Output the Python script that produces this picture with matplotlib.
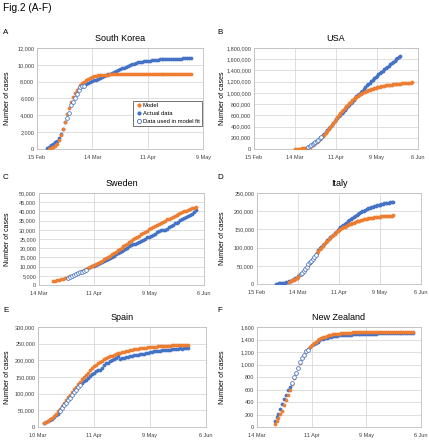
import numpy as np
import pandas as pd
import matplotlib
matplotlib.use("Agg")
import matplotlib.pyplot as plt
from matplotlib.ticker import FuncFormatter
from matplotlib.lines import Line2D

plt.rcParams["font.family"] = ["Liberation Sans", "DejaVu Sans"]

ORANGE = "#ED7D31"
BLUE = "#4472C4"

# ---- A: South Korea (cases)
kr_actual_start = "2020-02-20"
kr_actual = [104, 204, 433, 602, 833, 977, 1261, 1766, 2337, 3150,
             3736, 4335, 5186, 5621, 6088, 6593, 7041, 7313, 7478, 7513,
             7755, 7869, 7979, 8086, 8162, 8236, 8320, 8413, 8565, 8652,
             8799, 8897, 8961, 9037, 9137, 9241, 9332, 9478, 9583, 9661, 9786,
             9887, 9976, 10062, 10156, 10237, 10284, 10331, 10384, 10423, 10450,
             10480, 10512, 10537, 10564, 10591, 10613, 10635, 10653, 10661, 10674,
             10683, 10694, 10702, 10708, 10718, 10728, 10738, 10752, 10761, 10765,
             10774, 10780, 10793]
kr_fit = (10, 20)
kr_model_start = "2020-02-21"
kr_model = [30, 80, 180, 350, 620, 1050, 1650, 2400, 3250,
            4100, 4900, 5600, 6200, 6650, 7000, 7300, 7560, 7800, 8000,
            8180, 8330, 8460, 8560, 8640, 8700, 8745, 8780, 8805, 8825,
            8840, 8850, 8858, 8864, 8868, 8871, 8874, 8876, 8877, 8878, 8879,
            8879, 8879] + [8880] * 31

# ---- B: USA (thousands of cases)
us_actual_start = "2020-03-23"
us_actual = [43.8, 53.7, 65.8, 83.8, 101.7, 121.5, 140.9, 161.8, 188.2,
             213.4, 243.6, 275.4, 308.9, 337.1, 366.7, 396.2, 429.1, 461.4, 496.5,
             526.4, 555.3, 580.6, 607.7, 636.4, 667.8, 699.7, 732.2, 758.8, 784.3,
             811.9, 840.4, 869.2, 905.4, 938.2, 965.8, 988.5, 1012.6, 1039.9, 1069.4,
             1103.5, 1133.1, 1158.0, 1180.4, 1204.4, 1229.3, 1257.0, 1283.9, 1309.5, 1329.3,
             1347.9, 1369.6, 1390.7, 1417.8, 1443.0, 1467.8, 1486.8, 1508.3, 1528.6, 1551.9,
             1577.1, 1601.4, 1622.6, 1643.2, 1662.3]
us_fit = (0, 10)
us_model_start = "2020-03-14"
us_model = [2, 3, 4, 6, 8, 11, 15, 20, 26, 34, 44, 56, 70, 86, 104, 124, 146, 170,
            196, 224, 254, 286, 319, 353, 388, 424, 460, 496,
            532, 568, 603, 637, 670, 702, 733, 762, 790, 817,
            842, 866, 889, 910, 930, 949, 966, 982, 997, 1011,
            1024, 1036, 1047, 1057, 1067, 1076, 1084, 1092, 1099, 1106,
            1112, 1118, 1123, 1128, 1133, 1137, 1141, 1145, 1149, 1152,
            1155, 1158, 1161, 1164, 1167, 1170, 1172, 1175, 1177, 1180, 1182,
            1184, 1186]

# ---- C: Sweden (thousands of cases)
se_actual_start = "2020-03-29"
se_actual = [4.03, 4.44, 4.95, 5.57, 6.13, 6.44, 6.83, 7.21, 7.69, 8.42,
             9.14, 9.69, 10.15, 10.48, 10.95, 11.45, 11.93, 12.54, 13.22, 13.82, 14.39, 14.78,
             15.32, 16.00, 16.76, 17.57, 18.18, 18.64, 18.93, 19.62, 20.30, 21.09,
             21.52, 22.08, 22.32, 22.72, 23.22, 23.92, 24.62, 25.27, 25.92, 26.32,
             26.67, 27.27, 27.91, 28.58, 29.21, 29.68, 29.68, 30.14, 30.38, 31.52,
             32.17, 32.81, 33.46, 33.84, 34.44, 35.09, 35.73, 36.48, 37.11, 37.54, 37.81,
             38.59, 39.56, 40.80]
se_fit = (0, 10)
se_model_start = "2020-03-21"
se_model = [2.00, 2.22, 2.46, 2.72, 3.00, 3.30, 3.62, 3.96, 4.32, 4.70, 5.10,
            5.52, 5.96, 6.42, 6.90, 7.40, 7.92, 8.46, 9.02, 9.60, 10.20,
            10.82, 11.40, 11.99, 12.60, 13.23, 13.88, 14.55, 15.24, 15.94, 16.65,
            17.37, 18.10, 18.83, 19.57, 20.31, 21.06, 21.80, 22.54, 23.28, 24.02,
            24.75, 25.47, 26.18, 26.88, 27.57, 28.25, 28.92, 29.58, 30.24, 30.88,
            31.51, 32.13, 32.74, 33.34, 33.92, 34.49, 35.05, 35.60, 36.14, 36.66,
            37.17, 37.66, 38.14, 38.61, 39.07, 39.52, 39.96, 40.39, 40.81, 41.22,
            41.62, 42.01, 42.40]

# ---- D: Italy (thousands of cases)
it_actual_start = "2020-02-28"
it_actual = [0.89, 1.13, 1.69, 2.04, 2.50, 3.09, 3.86, 4.64, 5.88, 7.38, 9.17, 10.15,
             12.46, 15.11, 17.66, 21.16, 24.75,
             27.98, 31.51, 35.71, 41.04, 47.02, 53.58, 59.14, 63.93, 69.18, 74.39, 80.59,
             86.50, 92.47, 97.69, 101.74, 105.79,
             110.57, 115.24, 119.83, 124.63, 128.95, 132.55, 135.59, 139.42, 143.63, 147.58,
             152.27, 156.36, 159.52, 162.49, 165.16, 168.94, 172.43, 175.93, 178.97, 181.23,
             183.96, 187.33, 189.97, 192.99, 195.35, 197.68, 199.41, 201.51, 203.59, 205.46,
             207.43, 209.33, 210.72, 211.94, 213.01, 214.46, 215.86, 217.19, 218.27, 219.07,
             219.81, 221.22, 222.10, 223.10, 223.89, 224.76, 225.44, 225.89]
it_fit = (17, 28)
it_model_start = "2020-03-08"
it_model = [6.3, 7.9, 9.8, 12.0, 14.5, 17.3, 20.3, 23.5, 27.0, 31.0, 35.5, 40.5,
            45.8, 51.4, 57.1, 62.8, 68.4, 73.9, 79.3, 84.6, 89.8, 94.9, 99.9, 104.8,
            109.6, 114.3, 118.8, 123.1, 127.2, 131.1, 134.8, 138.3, 141.6, 144.7,
            147.6, 150.4, 153.0, 155.4, 157.7, 159.9, 161.9, 163.8, 165.6, 167.3,
            168.9, 170.4, 171.8, 173.1, 174.3, 175.4, 176.5, 177.5, 178.4, 179.3,
            180.1, 180.9, 181.7, 182.4, 183.0, 183.6, 184.2, 184.7, 185.2, 185.6,
            186.0, 186.4, 186.8, 187.1, 187.4, 187.7, 188.0, 188.3]

# ---- E: Spain (thousands of cases)
es_actual_start = "2020-03-17"
es_actual = [11.7, 13.9, 18.0, 20.4, 25.4, 28.6, 35.1, 39.9, 49.5, 57.8, 65.7, 73.2,
             80.1, 88.0, 95.9,
             104.1, 112.1, 119.2, 126.2, 131.6, 136.7, 141.9, 148.2, 153.2, 158.3,
             163.0, 166.8, 170.1, 172.5, 177.6, 184.9, 190.8, 191.7, 198.7, 200.2,
             204.2, 208.4, 213.0, 203.0, 205.9, 207.6, 209.5, 210.8, 212.9, 213.4,
             215.2, 216.6, 217.5, 218.0, 219.3, 220.3, 221.4, 222.9, 223.6, 224.4,
             227.4, 228.0, 228.7, 229.5, 230.2, 230.7, 230.7, 231.4, 232.0, 232.6,
             233.0, 234.8, 235.3, 235.8, 235.4, 236.3, 236.3, 237.9]
es_fit = (8, 19)
es_model_start = "2020-03-17"
es_model = [11.0, 14.5, 18.5, 23.0, 28.0, 33.5, 40.0, 47.0, 55.0, 63.2, 71.6, 80.1,
            88.6, 97.0, 105.2,
            113.2, 121.0, 128.5, 135.8, 142.9, 149.9, 156.8, 163.5, 170.0, 176.3,
            182.4, 187.2, 191.6, 195.7, 199.5, 203.0, 206.2, 209.1, 211.8, 214.3,
            216.6, 218.7, 220.6, 222.4, 224.1, 225.7, 227.2, 228.7, 230.1, 231.4,
            232.6, 233.7, 234.7, 235.6, 236.5, 237.4, 238.2, 238.9, 239.6, 240.3,
            240.9, 241.4, 241.9, 242.4, 242.8, 243.2, 243.6, 244.0, 244.3, 244.6,
            244.9, 245.2, 245.4, 245.6, 245.8, 246.0, 246.2, 246.4]

# ---- F: New Zealand (cases)
nz_actual_start = "2020-03-23"
nz_actual = [102, 155, 205, 283, 368, 451, 514, 589, 647,
             708, 797, 868, 950, 1039, 1106, 1160, 1210, 1239, 1283,
             1312, 1330, 1349, 1366, 1386, 1401, 1409, 1422, 1431, 1440,
             1445, 1451, 1456, 1461, 1470, 1469, 1469, 1472, 1474, 1476,
             1479, 1485, 1487, 1487, 1488, 1489, 1489, 1490, 1492, 1494,
             1494, 1494, 1495, 1495, 1497, 1498, 1499, 1499, 1499, 1499,
             1500, 1501, 1501, 1502, 1502, 1502, 1503, 1503, 1503, 1503, 1503,
             1503, 1503]
nz_fit = (9, 18)
nz_model_start = "2020-03-23"
nz_model = [43, 95, 140, 205, 262, 345, 425, 512, 600,
            690, 780, 865, 950, 1030, 1100, 1160, 1210, 1250, 1285,
            1315, 1342, 1366, 1387, 1405, 1421, 1435, 1447, 1457, 1466,
            1474, 1481, 1487, 1492, 1496, 1500, 1503, 1506, 1508, 1510,
            1512, 1513, 1514, 1515, 1516, 1517, 1518, 1518, 1519, 1519] + [1520] * 10 + [1521] * 13

ticks_feb = ["2020-02-15", "2020-03-14", "2020-04-11", "2020-05-09", "2020-06-06"]
labels_feb = ["15 Feb", "14 Mar", "11 Apr", "9 May", "6 Jun"]
ticks_mar = ["2020-03-14", "2020-04-11", "2020-05-09", "2020-06-06"]
labels_mar = ["14 Mar", "11 Apr", "9 May", "6 Jun"]
labels_es = ["10 Mar", "11 Apr", "9 May", "6 Jun"]

MS = 2.7

W, H = 429, 440
fig = plt.figure(figsize=(W / 100, H / 100), dpi=100)
fig.text(3 / W, 1 - 8 / H, "Fig.2 (A-F)", fontsize=7.3, va="center", ha="left")


def panel(box, letter, title, a_start, actual, fit, m_start, model, scale,
          ticks, labels, ymax, ystep):
    x0, y0, x1, y1 = box
    ax = fig.add_axes([x0 / W, 1 - y1 / H, (x1 - x0) / W, (y1 - y0) / H])
    actual = np.asarray(actual, float) * scale
    model = np.asarray(model, float) * scale
    a_dates = pd.date_range(a_start, periods=len(actual))
    m_dates = pd.date_range(m_start, periods=len(model))
    keep = np.ones(len(actual), bool)
    keep[fit[0]:fit[1]] = False
    ax.plot(a_dates[keep], actual[keep], "o", color=BLUE, ms=MS, mew=0, zorder=3)
    ax.plot(m_dates, model, "o", color=ORANGE, ms=MS, mew=0, zorder=4)
    ax.plot(a_dates[~keep], actual[~keep], "o", mfc="white", mec=BLUE,
            ms=MS, mew=0.55, zorder=5)

    t = pd.to_datetime(ticks)
    ax.set_xlim(t[0], t[-1])
    ax.set_xticks(t)
    ax.set_xticklabels(labels)
    ax.set_ylim(0, ymax)
    ax.set_yticks(np.arange(0, ymax + ystep / 2, ystep))
    ax.yaxis.set_major_formatter(FuncFormatter(lambda v, p: f"{v:,.0f}"))
    ax.tick_params(axis="both", length=0, labelsize=4.0, colors="#404040")
    ax.tick_params(axis="x", pad=4.5)
    ax.tick_params(axis="y", pad=2)
    ax.grid(True, color="#D9D9D9", lw=0.6)
    ax.set_axisbelow(True)
    for s in ax.spines.values():
        s.set_color("#BFBFBF")
        s.set_linewidth(0.6)

    h = y1 - y0
    ax.text(0.5, 1 + 9.5 / h, title, transform=ax.transAxes, ha="center",
            va="center", fontsize=6.5)
    lx = 3 if x0 < 200 else 217
    fig.text(lx / W, 1 - (y0 - 16) / H, letter, fontsize=5.8, va="center")
    fig.text((lx + 5) / W, 1 - (y0 + y1) / 2 / H, "Number of cases",
             rotation=90, fontsize=5.0, va="center", ha="center")
    return ax


axA = panel((37, 48, 203, 149), "A", "South Korea", kr_actual_start, kr_actual, kr_fit,
            kr_model_start, kr_model, 1, ticks_feb[:4], labels_feb[:4], 12000, 2000)
panel((254, 48, 418, 149), "B", "USA", us_actual_start, us_actual, us_fit,
      us_model_start, us_model, 1000, ticks_feb, labels_feb, 1800000, 200000)
panel((39, 193, 204, 285), "C", "Sweden", se_actual_start, se_actual, se_fit,
      se_model_start, se_model, 1000, ticks_mar, labels_mar, 50000, 5000)
panel((257, 193, 421, 284), "D", "Italy", it_actual_start, it_actual, it_fit,
      it_model_start, it_model, 1000, ticks_feb, labels_feb, 250000, 50000)
panel((38, 327, 206, 427), "E", "Spain", es_actual_start, es_actual, es_fit,
      es_model_start, es_model, 1000, ticks_mar, labels_es, 300000, 50000)
panel((257, 327, 421, 427), "F", "New Zealand", nz_actual_start, nz_actual, nz_fit,
      nz_model_start, nz_model, 1, ticks_mar, labels_mar, 1600, 200)

handles = [
    Line2D([], [], ls="none", marker="o", color=ORANGE, ms=3.0, mew=0),
    Line2D([], [], ls="none", marker="o", color=BLUE, ms=3.0, mew=0),
    Line2D([], [], ls="none", marker="o", mfc="white", mec=BLUE, ms=3.0, mew=0.6),
]
leg = axA.legend(handles, ["Model", "Actual data", "Data used in model fit"],
                 loc="lower right", bbox_to_anchor=(0.994, 0.228), borderaxespad=0,
                 fontsize=4.2, fancybox=False, framealpha=1, edgecolor="#595959",
                 handletextpad=0.2, handlelength=1.0, borderpad=0.4, labelspacing=0.45)
leg.get_frame().set_linewidth(0.6)

fig.savefig("out.png", dpi=100)
